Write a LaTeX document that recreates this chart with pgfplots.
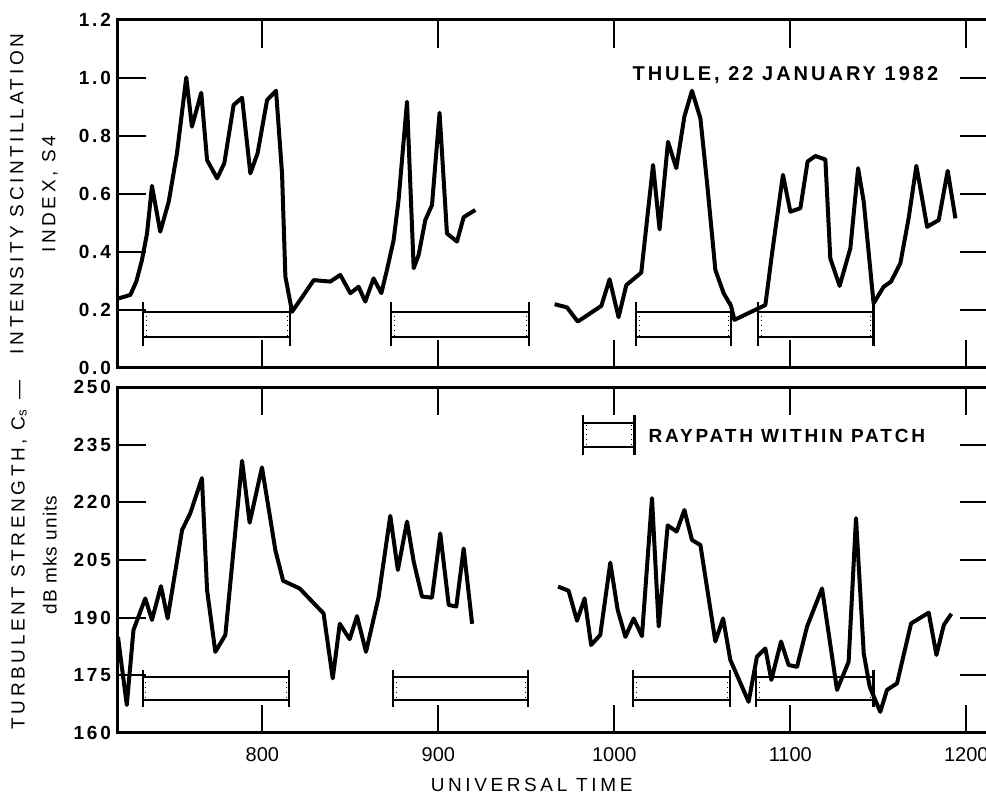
\documentclass[border=0pt]{standalone}
\usepackage{fontspec}
\setmainfont{Liberation Sans}
\newfontfamily\lsp[LetterSpace=19]{Liberation Sans}
\newfontfamily\bsp[LetterSpace=15]{Liberation Sans}
\newfontfamily\msp[LetterSpace=6]{Liberation Sans}
\usepackage{pgfplots}
\pgfplotsset{compat=1.18}

% #1 x1, #2 x2, #3 ylow, #4 yhigh, #5 cap low, #6 cap high
\newcommand{\patchbar}[6]{%
  \addplot[black, line width=1.1pt] coordinates {(#1,#4) (#2,#4)};
  \addplot[black, line width=1.1pt] coordinates {(#1,#3) (#2,#3)};
  \addplot[black, line width=1.1pt] coordinates {(#1,#5) (#1,#6)};
  \addplot[black, line width=1.1pt] coordinates {(#2,#5) (#2,#6)};
}

\pgfplotsset{panel/.style={
  scale only axis, width=435pt, xmin=718, xmax=1212.3,
  axis line style={line width=1.5pt},
  tick align=inside, major tick length=14pt,
  tick style={black, line width=1pt},
  xtick={800,900,1000,1100,1200},
  /pgf/number format/assume math mode=true,
  clip mode=individual,
  yticklabel style={font=\bsp\bfseries\fontsize{9.5}{10}\selectfont},
  xticklabel style={font=\fontsize{10}{11}\selectfont, yshift=-3.5pt},
}}
\tikzset{curve/.style={black, line width=2pt, line join=round},
  dotedge/.style={black, line width=0.4pt, dotted}}

\begin{document}
\begin{tikzpicture}
% ---------------- top panel ----------------
\begin{axis}[panel, name=top, at={(0,0)}, anchor=north west, height=174pt,
  ymin=0, ymax=1.2, ytick={0,0.2,0.4,0.6,0.8,1.0,1.2},
  yticklabels={0.0,0.2,0.4,0.6,0.8,1.0,1.2}, xticklabels={}]
% patch intervals
\patchbar{732.4}{815.9}{0.107}{0.192}{0.075}{0.227}
\patchbar{873.3}{951.7}{0.107}{0.192}{0.075}{0.227}
\patchbar{1012.5}{1066.5}{0.107}{0.192}{0.075}{0.227}
\patchbar{1081.8}{1147.2}{0.107}{0.192}{0.075}{0.227}
\addplot[dotedge] coordinates {(733.9,0.112) (733.9,0.187)};
\addplot[dotedge] coordinates {(814.4,0.112) (814.4,0.187)};
\addplot[dotedge] coordinates {(874.8,0.112) (874.8,0.187)};
\addplot[dotedge] coordinates {(950.2,0.112) (950.2,0.187)};
\addplot[dotedge] coordinates {(1014,0.112) (1014,0.187)};
\addplot[dotedge] coordinates {(1065,0.112) (1065,0.187)};
\addplot[dotedge] coordinates {(1083.3,0.112) (1083.3,0.187)};
\addplot[dotedge] coordinates {(1145.7,0.112) (1145.7,0.187)};
\addplot[curve] coordinates {
(718.3,0.240) (725,0.252) (728.4,0.298) (731.6,0.372) (734.5,0.464) (737.3,0.628)
(742,0.470) (746.8,0.573) (751.5,0.740) (756.8,1.002) (760,0.832) (765.3,0.949)
(768.6,0.717) (774.3,0.654) (778.4,0.706) (783.7,0.907) (788.5,0.932) (793.2,0.671)
(797.3,0.740) (802.7,0.924) (807.8,0.956) (811.2,0.671) (813.1,0.315) (816.9,0.194)
(823.5,0.252) (829.2,0.303) (838.6,0.298) (844.3,0.321) (850,0.258) (854.7,0.280)
(858.5,0.229) (863.2,0.309) (867.6,0.258) (870.8,0.338) (874.6,0.441) (877.4,0.579)
(882.2,0.918) (886,0.344) (888.8,0.390) (892.6,0.510) (896.4,0.562) (900.7,0.880)
(904.9,0.464) (910.6,0.436) (914.4,0.520) (921,0.545)};
\addplot[curve] coordinates {
(966.1,0.220) (973.1,0.209) (979.2,0.160) (992.6,0.214) (997.3,0.306) (1002.4,0.175)
(1006.8,0.286) (1015.3,0.329) (1022,0.700) (1025.7,0.478) (1030.5,0.780) (1035.2,0.689)
(1039.8,0.867) (1044.1,0.956) (1048.9,0.861) (1052.7,0.637) (1057.4,0.338) (1062.1,0.258)
(1066.3,0.214) (1068.2,0.166) (1082,0.206) (1085.8,0.217) (1089.6,0.395) (1095.8,0.666)
(1100,0.539) (1105.7,0.551) (1109.8,0.712) (1114.2,0.731) (1119.9,0.719) (1122.7,0.378)
(1128,0.283) (1134.1,0.413) (1138.5,0.689) (1141.7,0.573) (1147.3,0.223) (1153,0.280)
(1157.2,0.298) (1162.5,0.361) (1167.2,0.516) (1171.6,0.697) (1177.7,0.487) (1184.3,0.510)
(1189.4,0.680) (1193.8,0.516)};
\node[anchor=east, font=\bsp\bfseries\fontsize{10}{11}\selectfont] at (axis cs:1188,1.01) {THULE, 22 JANUARY 1982};
\node[rotate=90, align=center, font=\lsp\fontsize{9.5}{16}\selectfont] at ([xshift=-42pt]rel axis cs:0,0.5) {INTENSITY SCINTILLATION\\INDEX, S4};
\end{axis}
% ---------------- bottom panel ----------------
\begin{axis}[panel, name=bot, at={(0,-183.5pt)}, anchor=north west, height=173pt,
  ymin=160, ymax=250, ytick={160,175,190,205,220,235,250},
  yticklabels={160,175,190,205,220,235,250},
  xticklabels={800,900,1000,1100,1200}]
\patchbar{732}{815.3}{168.6}{174.6}{166.8}{176.4}
\patchbar{874.4}{951.1}{168.6}{174.6}{166.8}{176.4}
\patchbar{1010.8}{1065.9}{168.6}{174.6}{166.8}{176.4}
\patchbar{1080.7}{1147.2}{168.6}{174.6}{166.8}{176.4}
\patchbar{982.4}{1011.4}{234.4}{240.6}{232.3}{242.7}
\addplot[dotedge] coordinates {(733.5,169.2) (733.5,174.0)};
\addplot[dotedge] coordinates {(813.8,169.2) (813.8,174.0)};
\addplot[dotedge] coordinates {(875.9,169.2) (875.9,174.0)};
\addplot[dotedge] coordinates {(949.6,169.2) (949.6,174.0)};
\addplot[dotedge] coordinates {(1012.3,169.2) (1012.3,174.0)};
\addplot[dotedge] coordinates {(1064.4,169.2) (1064.4,174.0)};
\addplot[dotedge] coordinates {(1082.2,169.2) (1082.2,174.0)};
\addplot[dotedge] coordinates {(1145.7,169.2) (1145.7,174.0)};
\addplot[dotedge] coordinates {(983.9,235.0) (983.9,240.0)};
\addplot[dotedge] coordinates {(1009.9,235.0) (1009.9,240.0)};
\addplot[curve] coordinates {
(718,185.0) (723,167.3) (726.8,186.8) (733.5,195.0) (737.3,189.4) (742.4,198.2)
(746.2,189.8) (754.4,212.8) (759.1,217.2) (765.7,226.3) (768.6,197.2) (773.3,181.1)
(779,185.5) (788.5,230.8) (792.8,214.7) (799.8,229.1) (807.4,207.6) (811.8,199.6)
(821.2,197.6) (834.8,191.1) (840,174.2) (844,188.4) (849.6,184.4) (853.8,190.4)
(858.9,181.1) (866,195.2) (872.7,216.5) (877,202.4) (882.2,215.0) (886,204.6)
(890.7,195.5) (896.4,195.2) (901.1,211.9) (905.9,193.3) (910.2,192.9) (914.4,208.0)
(919.2,188.4)};
\addplot[curve] coordinates {
(968,198.1) (974,197.0) (978.8,189.2) (983.1,195.0) (986.8,182.9) (992,185.5)
(997.7,204.3) (1001.9,192.0) (1006.3,185.0) (1011,189.8) (1015.7,185.2) (1021.4,221.1)
(1025.2,187.7) (1030.3,214.0) (1035.4,212.4) (1039.8,218.0) (1044.1,210.2) (1048.9,208.9)
(1057.4,183.8) (1061.8,189.8) (1065.9,179.0) (1076.3,168.1) (1081,179.8) (1085.8,182.0)
(1089.2,173.8) (1094.7,183.8) (1099,177.7) (1103.8,177.2) (1109.5,187.7) (1118,197.6)
(1126.5,171.2) (1133.1,178.5) (1137.3,215.9) (1141.7,180.7) (1145.1,172.0) (1151.1,165.5)
(1154.9,171.2) (1160.6,172.9) (1168.6,188.5) (1178.6,191.3) (1183,180.3) (1187.2,188.1)
(1191.5,191.0)};
\node[anchor=west, font=\bsp\bfseries\fontsize{9.5}{11}\selectfont] at (axis cs:1015.5,237.3) {RAYPATH WITHIN PATCH};
\node[rotate=90, align=center, font=\lsp\fontsize{9.5}{16}\selectfont] at ([xshift=-42pt]rel axis cs:0,0.514) {TURBULENT STRENGTH, C\textsubscript{s} —\\{\msp dB mks units}};
\node[font=\lsp\fontsize{9.5}{11}\selectfont] at ([yshift=-26pt]axis cs:953,160) {UNIVERSAL TIME};
\end{axis}
\pgfresetboundingbox
\path (-59pt,10pt) rectangle (434pt,-388.5pt);
\end{tikzpicture}
\end{document}
